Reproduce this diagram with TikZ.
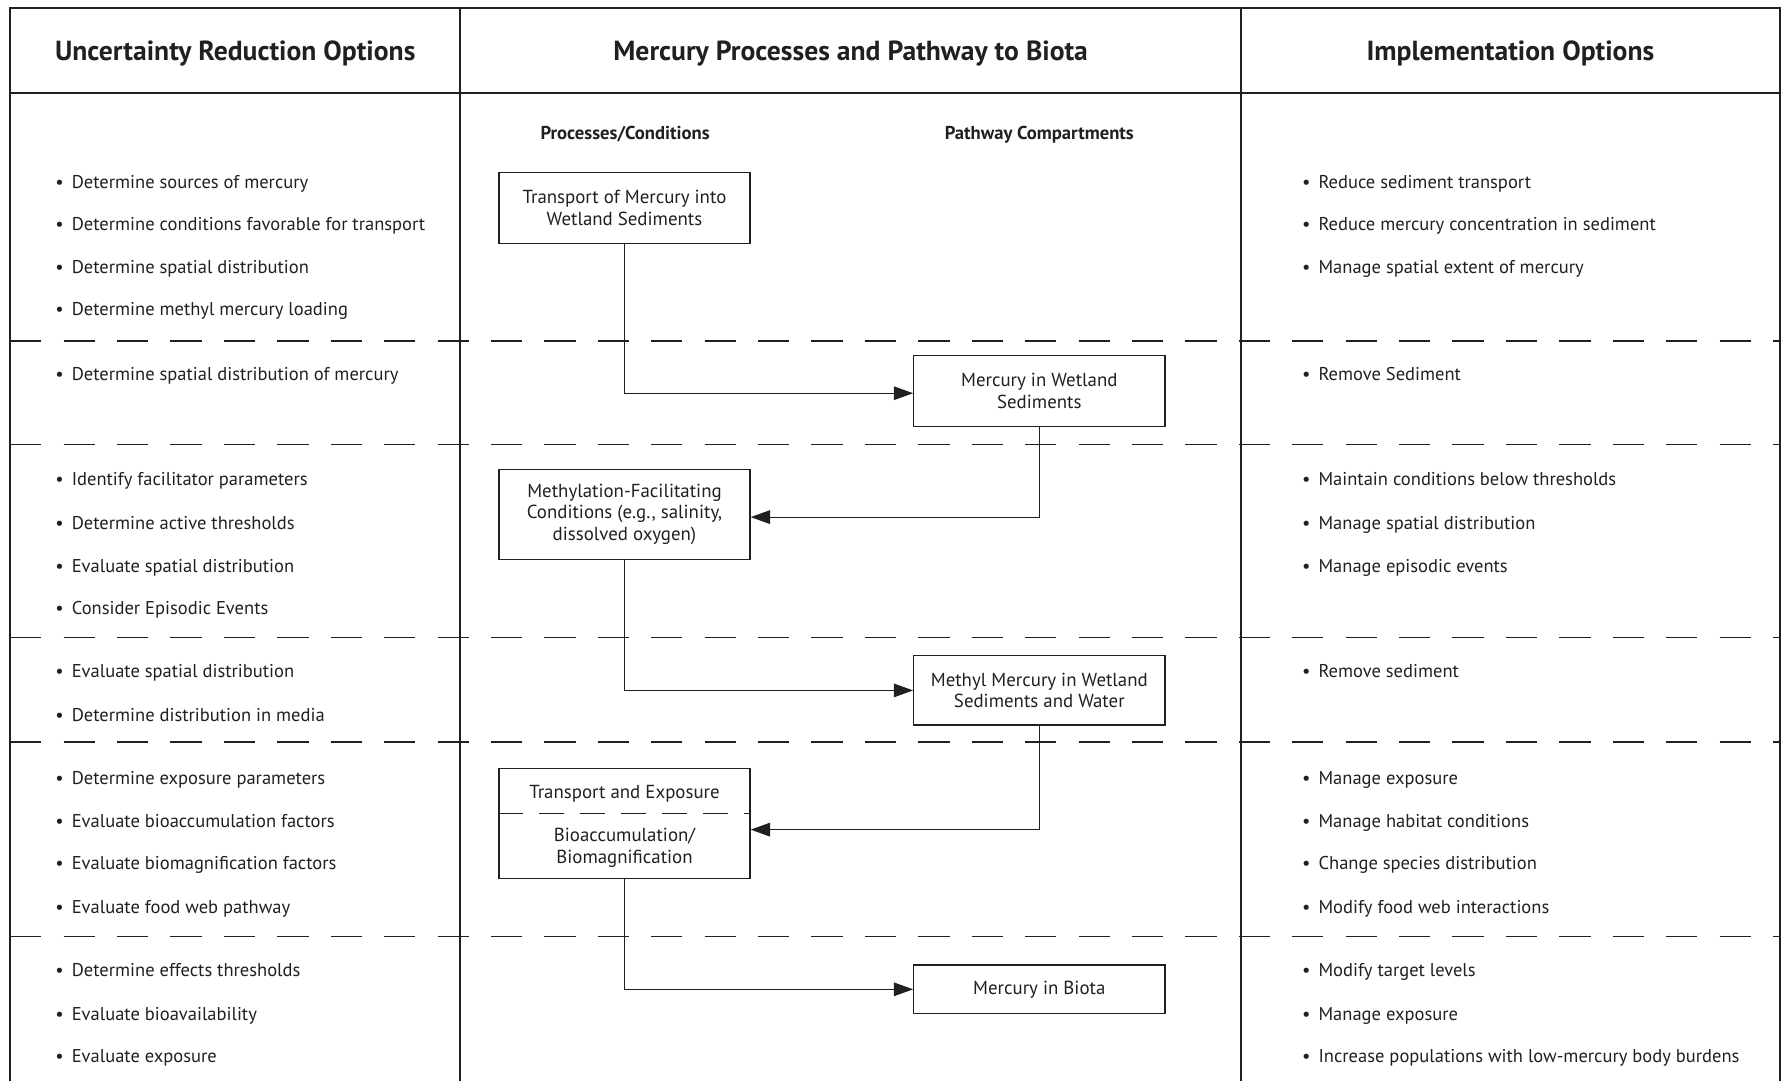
\documentclass[tikz,border=0pt]{standalone}
\usepackage{fontspec}
\setmainfont{PT Sans}
\usetikzlibrary{arrows.meta}
\definecolor{ink}{RGB}{35,31,32}
\newcommand{\itemfont}{\fontsize{16.3}{19}\selectfont}
\newcommand{\boxfont}{\fontsize{16.6}{19}\selectfont}
\newcommand{\headfont}{\fontsize{24.3}{28}\selectfont\bfseries}
\newcommand{\subfont}{\fontsize{16.4}{19}\selectfont\bfseries}
\newcommand{\bul}{\llap{\textbullet\hspace{7pt}}}
\begin{document}
\begin{tikzpicture}[x=1pt,y=-1pt,color=ink,
  frame/.style={line width=1.9pt},
  sepline/.style={line width=1.3pt, dash pattern=on 27.5pt off 19.5pt},
  box/.style={draw, line width=1.1pt, minimum width=221pt, align=center, inner sep=0pt, font=\boxfont},
  conn/.style={line width=1pt, -{Triangle[length=17pt,width=12pt]}},
  item/.style={anchor=base west, inner sep=0pt, font=\itemfont},
  head/.style={anchor=base, inner sep=0pt, font=\headfont},
  sub/.style={anchor=base, inner sep=0pt, font=\subfont},
  txt/.style={anchor=base, inner sep=0pt, font=\boxfont, align=center}]
\useasboundingbox (0,0) rectangle (1568,951);
% frame
\draw[frame] (9,951) -- (9,7) -- (1566,7) -- (1566,951);
\draw[frame] (405,7) -- (405,951);
\draw[frame] (1092,7) -- (1092,951);
\draw[frame] (9,82) -- (1566,82);
% separators
\foreach \yy in {300,391,561,653,824}
  \draw[sepline] (9,\yy) -- (1566,\yy);
% headers
\node[head] (h1) at (207,53) {Uncertainty Reduction Options};
\node[head] (h2) at (748.5,53) {Mercury Processes and Pathway to Biota};
\node[head] (h3) at (1329,53) {Implementation Options};
\node[sub] (s1) at (550,122.5) {Processes/Conditions};
\node[sub] (s2) at (914.5,122.5) {Pathway Compartments};
% boxes
\node[box, minimum height=62pt] (b1) at (549.5,183) {Transport of Mercury into\\Wetland Sediments};
\node[box, minimum height=62pt] (b2) at (914.5,344) {Mercury in Wetland\\Sediments};
\node[box, minimum height=79pt] (b3) at (549.5,452.5) {Methylation-Facilitating\\Conditions (e.g., salinity,\\dissolved oxygen)};
\node[box, minimum height=61pt] (b4) at (914.5,607.5) {Methyl Mercury in Wetland\\Sediments and Water};
\node[box, minimum height=97pt] (b5) at (549.5,724.5) {};
\node[txt] (b5a) at (549.5,702.5) {Transport and Exposure};
\node[txt] (b5b) at (549.5,759.5) {Bioaccumulation/\\Biomagnification};
\draw[line width=1.1pt, dash pattern=on 22pt off 14pt] (b5.west |- 0,716) -- (b5.east |- 0,716);
\node[box, minimum height=43pt] (b6) at (914.5,870.5) {Mercury in Biota};
% connectors
\draw[conn] (b1.south) |- ([yshift=-2pt]b2.west);
\draw[conn] (b2.south) |- ([yshift=-2.5pt]b3.east);
\draw[conn] (b3.south) |- (b4.west);
\draw[conn] (b4.south) |- ([yshift=-5.5pt]b5.east);
\draw[conn] (b5.south) |- (b6.west);
% left column
\foreach \yy/\txt in {160/Determine sources of mercury,
  197/Determine conditions favorable for transport,
  235/Determine spatial distribution,
  272/Determine methyl mercury loading,
  329/Determine spatial distribution of mercury,
  422/Identify facilitator parameters,
  460/Determine active thresholds,
  498/Evaluate spatial distribution,
  535/Consider Episodic Events,
  591/Evaluate spatial distribution,
  629/Determine distribution in media,
  685/Determine exposure parameters,
  723/Evaluate bioaccumulation factors,
  760/Evaluate biomagnification factors,
  798/Evaluate food web pathway,
  854/Determine effects thresholds,
  892/Evaluate bioavailability,
  929/Evaluate exposure}
  \node[item] (L\yy) at (63,\yy+5.5) {\bul\txt};
% right column
\foreach \yy/\txt in {160/Reduce sediment transport,
  197/Reduce mercury concentration in sediment,
  235/Manage spatial extent of mercury,
  329/Remove Sediment,
  422/Maintain conditions below thresholds,
  460/Manage spatial distribution,
  498/Manage episodic events,
  591/Remove sediment,
  685/Manage exposure,
  723/Manage habitat conditions,
  760/Change species distribution,
  798/Modify food web interactions,
  854/Modify target levels,
  892/Manage exposure,
  929/Increase populations with low-mercury body burdens}
  \node[item] (R\yy) at (1160,\yy+5.5) {\bul\txt};
\end{tikzpicture}
\end{document}
